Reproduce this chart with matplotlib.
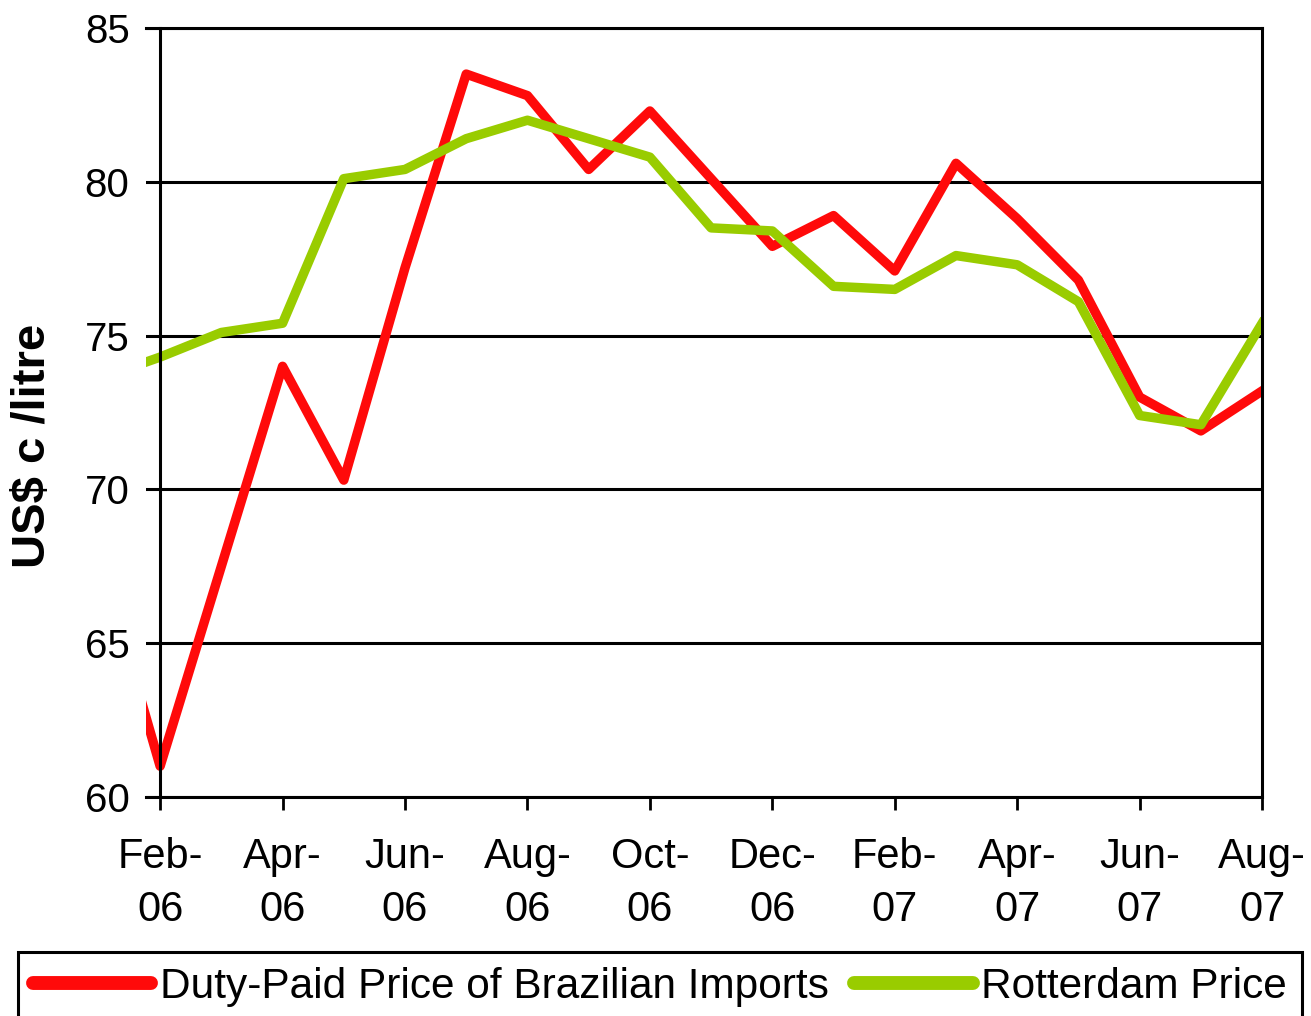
import matplotlib
matplotlib.use('Agg')
import matplotlib.pyplot as plt

plt.rcParams['font.family'] = ['Liberation Sans', 'DejaVu Sans']

# monthly, Jan-06 .. Aug-07 (Jan-06 sits just off the left edge of the axis)
months = ['Jan-06', 'Feb-06', 'Mar-06', 'Apr-06', 'May-06', 'Jun-06', 'Jul-06', 'Aug-06',
          'Sep-06', 'Oct-06', 'Nov-06', 'Dec-06', 'Jan-07', 'Feb-07', 'Mar-07', 'Apr-07',
          'May-07', 'Jun-07', 'Jul-07', 'Aug-07']
brazil = [67.9, 61.0, 67.5, 74.0, 70.3, 77.2, 83.5, 82.8, 80.4, 82.3, 80.1, 77.9,
          78.9, 77.1, 80.6, 78.8, 76.8, 73.0, 71.9, 73.2]
rotterdam = [73.6, 74.3, 75.1, 75.4, 80.1, 80.4, 81.4, 82.0, 81.4, 80.8, 78.5, 78.4,
             76.6, 76.5, 77.6, 77.3, 76.1, 72.4, 72.1, 75.4]
tick_labels = ['Feb-\n06', 'Apr-\n06', 'Jun-\n06', 'Aug-\n06', 'Oct-\n06', 'Dec-\n06',
               'Feb-\n07', 'Apr-\n07', 'Jun-\n07', 'Aug-\n07']

x = list(range(-1, len(months) - 1))

fig = plt.figure(figsize=(13.11, 10.16), dpi=100)
ax = fig.add_axes([0.1114, 0.2156, 0.8513, 0.7569])

ax.plot(x, brazil, color='#ff0a0a', lw=6.8, solid_joinstyle='round',
        label='Duty-Paid Price of Brazilian Imports')
ax.plot(x, rotterdam, color='#99cc00', lw=6.8, solid_joinstyle='round',
        label='Rotterdam Price')

ax.set_xlim(-0.23, 18)
ax.set_ylim(60, 85)
ax.set_yticks([60, 65, 70, 75, 80, 85])
ax.set_xticks(range(0, 19, 2))
ax.set_xticklabels(tick_labels, linespacing=1.4)

ax.yaxis.grid(True, color='black', lw=2.2)
ax.set_axisbelow(True)
for s in ax.spines.values():
    s.set_color('black')
    s.set_linewidth(2.2)
ax.spines['left'].set_position(('data', 0))

ax.tick_params(axis='x', length=9, width=2, pad=20, labelsize=30)
ax.tick_params(axis='y', length=10, width=2, pad=12, labelsize=29)

fig.text(33 / 1311, 1 - 446 / 1016, 'US$ c /litre', rotation=90, fontsize=34,
         fontweight='bold', ha='center', va='center')

leg = fig.legend(loc='upper left', bbox_to_anchor=(18 / 1311, 1 - 952 / 1016), ncol=2,
                 fontsize=30.5, handlelength=2.8, handletextpad=0.2, columnspacing=0.6,
                 borderpad=0.35, borderaxespad=0, fancybox=False, edgecolor='black',
                 framealpha=1)
leg.get_frame().set_linewidth(2.2)
for ln in leg.get_lines():
    ln.set_linewidth(10)
    ln.set_solid_capstyle('round')

fig.savefig('out.png', dpi=100)
